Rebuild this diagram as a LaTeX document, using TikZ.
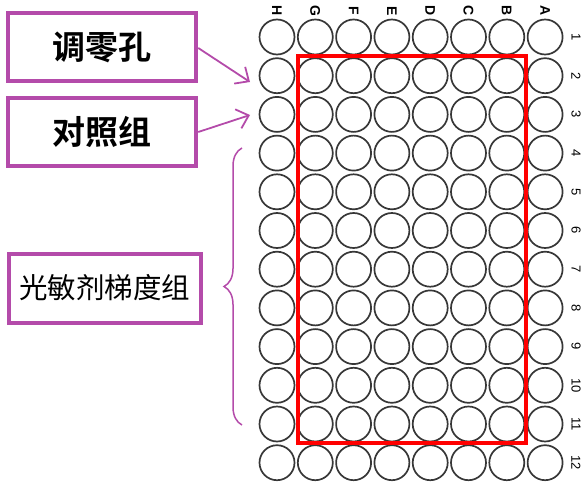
\documentclass[tikz,border=0pt]{standalone}
\usepackage{fontspec}
\setmainfont{Liberation Sans}
\newfontfamily\cjk{Noto Sans CJK SC}
\newfontfamily\cjkb{Noto Sans CJK SC Bold}
\usetikzlibrary{decorations.pathreplacing,arrows.meta}
\definecolor{mag}{RGB}{180,75,170}
\definecolor{wellc}{RGB}{55,55,55}
\begin{document}
\begin{tikzpicture}[x=1pt,y=-1pt,
  well/.style={circle,draw=wellc,line width=1.7pt,minimum size=35pt,inner sep=0pt},
  lab/.style={font=\fontsize{14}{14}\selectfont\bfseries,rotate=-90,inner sep=0pt},
  box/.style={draw=mag,line width=4.5pt,inner sep=0pt},
  pointer/.style={draw=mag,line width=1.8pt,-{Straight Barb[length=11pt,width=20pt]}}]
\useasboundingbox (0,0) rectangle (586,487);
\foreach \c [count=\i from 0] in {H,G,F,E,D,C,B,A}{
  \node[lab] (col\c) at (277+38.3*\i,11) {\c};
  \foreach \r in {1,...,12}{
    \node[well] (w\c\r) at (277+38.3*\i,37+38.7*\r-38.7) {};
  }
}
\foreach \r in {1,...,12}{
  \node[lab,font=\fontsize{13}{13}\selectfont] (row\r) at (576,37+38.7*\r-38.7) {\r};
}
\draw[red,line width=4pt] (298,56) rectangle (526,443);
\node[box,minimum width=188pt,minimum height=68pt,font=\cjkb\fontsize{33}{33}\selectfont] (b1) at (102,47) {调零孔};
\node[box,minimum width=188pt,minimum height=68pt,font=\cjkb\fontsize{33}{33}\selectfont] (b2) at (102,132) {对照组};
\node[box,line width=4pt,minimum width=192pt,minimum height=69pt,font=\cjk\fontsize{28.5}{28.5}\selectfont] (b3) at (105,288) {光敏剂梯度组};
\coordinate (t1) at (250,82);
\coordinate (t2) at (250,115);
\draw[pointer] (b1.east) ++(0,1) -- (t1);
\draw[pointer] (b2.east) ++(0,0) -- (t2);
\draw[mag,line width=1.5pt,decorate,decoration={brace,amplitude=18pt}] (242,425) -- (242,148) coordinate[pos=0.5] (bm);
\end{tikzpicture}
\end{document}
